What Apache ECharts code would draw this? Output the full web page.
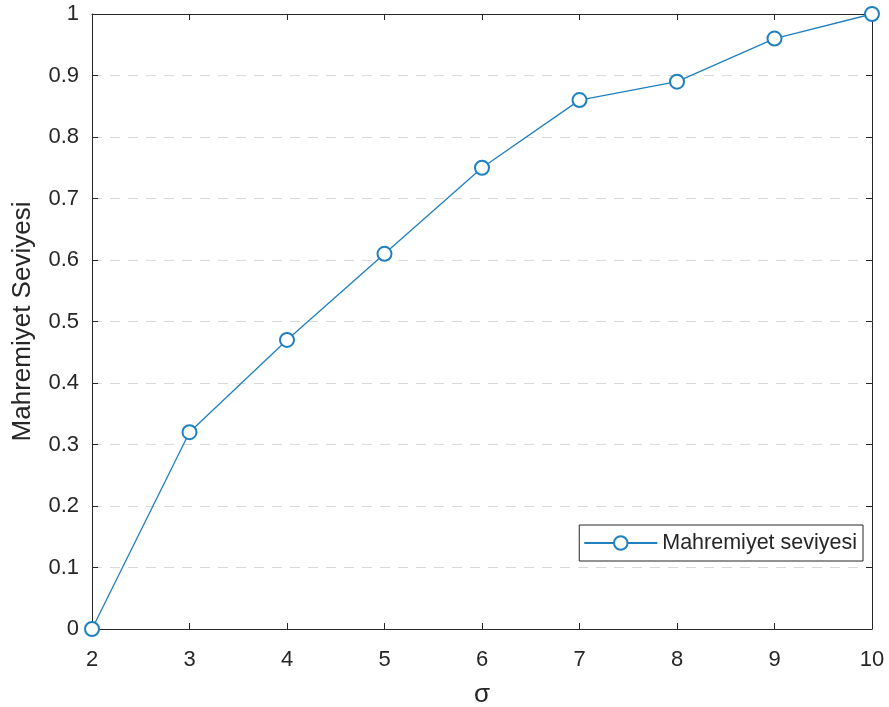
<!DOCTYPE html>
<html><head><meta charset="utf-8">
<script src="https://cdn.jsdelivr.net/npm/echarts@6/dist/echarts.min.js"></script>
<style>html,body{margin:0;padding:0;background:#fff}#c{width:889px;height:707px}</style>
</head><body><div id="c"></div>
<script>
const sigma = [2, 3, 4, 5, 6, 7, 8, 9, 10];
const privacy = [0, 0.32, 0.47, 0.61, 0.75, 0.86, 0.89, 0.96, 1.0];
const seriesName = 'Mahremiyet seviyesi';
const xTitle = 'σ';
const yTitle = 'Mahremiyet Seviyesi';

const lineColor = '#1f80bf';
const axisColor = '#262626';
const font = 'Liberation Sans, Arial, sans-serif';

const chart = echarts.init(document.getElementById('c'));
const axisCommon = {
  axisLine: {show: true, onZero: false, lineStyle: {color: axisColor, width: 1}},
  axisTick: {show: true, inside: true, length: 6, lineStyle: {color: axisColor}},
};
chart.setOption({
  animation: false,
  backgroundColor: '#fff',
  grid: {left: 92, top: 14, width: 780, height: 615, containLabel: false, outerBoundsMode: 'none'},
  legend: {
    show: true,
    data: [seriesName],
    right: 26, top: 525,
    orient: 'vertical',
    padding: [7, 6, 7, 4],
    itemWidth: 73, itemHeight: 17,
    itemGap: 0,
    borderColor: axisColor, borderWidth: 1, borderRadius: 0,
    backgroundColor: '#fff',
    selectedMode: false,
    textStyle: {fontFamily: font, fontSize: 21.5, color: axisColor}
  },
  xAxis: [
    Object.assign({
      type: 'value', min: 2, max: 10, interval: 1, position: 'bottom',
      name: xTitle, nameLocation: 'middle', nameGap: 53,
      nameTextStyle: {fontFamily: font, fontSize: 26, color: axisColor},
      axisLabel: {fontFamily: font, fontSize: 22, color: axisColor, margin: 20},
      splitLine: {show: false}
    }, axisCommon),
    Object.assign({
      type: 'value', min: 2, max: 10, interval: 1, position: 'top',
      axisLabel: {show: false}, splitLine: {show: false}
    }, axisCommon)
  ],
  yAxis: [
    Object.assign({
      type: 'value', min: 0, max: 1, interval: 0.1, position: 'left',
      name: yTitle, nameLocation: 'middle', nameGap: 56, nameRotate: 90,
      nameTextStyle: {fontFamily: font, fontSize: 26, color: axisColor},
      axisLabel: {fontFamily: font, fontSize: 22, color: axisColor, margin: 13,
        formatter: v => String(Math.round(v * 10) / 10)},
      splitLine: {show: true, lineStyle: {color: '#d9d9d9', type: [10, 8], width: 1}}
    }, axisCommon),
    Object.assign({
      type: 'value', min: 0, max: 1, interval: 0.1, position: 'right',
      axisLabel: {show: false}, splitLine: {show: false}
    }, axisCommon)
  ],
  series: [{
    name: seriesName,
    type: 'line',
    xAxisIndex: 0, yAxisIndex: 0,
    data: sigma.map((s, i) => [s, privacy[i]]),
    symbol: 'emptyCircle', symbolSize: 14,
    lineStyle: {color: lineColor, width: 1.3},
    itemStyle: {color: lineColor, borderColor: lineColor, borderWidth: 1.1},
    clip: false,
    z: 5
  }]
});
</script>
</body></html>
